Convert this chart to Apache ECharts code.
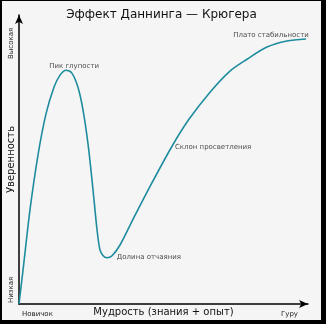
<!DOCTYPE html>
<html><head><meta charset="utf-8">
<script src="https://cdn.jsdelivr.net/npm/echarts@6/dist/echarts.min.js"></script>
<style>
html,body{margin:0;padding:0;background:#000;width:326px;height:324px;overflow:hidden}
#c{position:absolute;left:2px;top:1px;width:319px;height:319px;background:#f5f5f5}
</style></head>
<body><div id="c"></div>
<script>
const titleText = 'Эффект Даннинга — Крюгера';
const xTitle = 'Мудрость (знания + опыт)';
const yTitle = 'Уверенность';
const xEndLabels = ['Новичок', 'Гуру'];
const yEndLabels = ['Низкая', 'Высокая'];
// curve (x: wisdom 0..100, y: confidence 0..100)
const curveX = [0,1.4,3.8,6.6,9.3,12.1,14.2,16.3,18.3,20.4,22.1,23.9,25.6,27.0,28.0,29.1,30.4,32.2,35.0,39.4,45.3,52.9,58.8,66.1,73.0,78.9,85.8,92.7,99.3];
const curveY = [0,11.8,32.6,51.7,65.6,75.0,79.2,80.9,79.9,75.0,67.4,55.2,39.6,25.7,18.8,16.7,16.0,16.7,20.5,29.2,40.6,54.5,63.9,73.3,80.6,84.7,88.9,91.0,91.7];
const annoNames = ['Пик глупости', 'Долина отчаяния', 'Склон просветления', 'Плато стабильности'];
const annoX = [16.3, 30.4, 52.9, 99.3];
const annoY = [80.9, 16.0, 54.5, 91.7];

const chart = echarts.init(document.getElementById('c'));
const font = 'DejaVu Sans';
const annoPos = [
  {position:'top', offset:[8,4]},
  {position:'right', offset:[5,-1]},
  {position:'right', offset:[-2,1]},
  {position:'top', offset:[-35,5]}
];
chart.setOption({
  backgroundColor:'#f5f5f5',
  animation:false,
  textStyle:{fontFamily:font},
  title:{text:titleText,left:'center',top:3,textStyle:{fontFamily:font,fontSize:12,fontWeight:'normal',color:'#111'}},
  grid:{left:17,right:13,top:14,bottom:16,containLabel:false,outerBoundsMode:'none'},
  xAxis:{type:'value',min:0,max:100,name:xTitle,nameLocation:'middle',nameGap:3,
    nameTextStyle:{fontFamily:font,fontSize:10,color:'#111',verticalAlign:'top'},
    axisLine:{lineStyle:{color:'#000',width:1.5},symbol:['none','arrow'],symbolSize:[6,9]},
    axisTick:{show:false},axisLabel:{show:false},splitLine:{show:false}},
  yAxis:{type:'value',min:0,max:100,name:yTitle,nameLocation:'middle',nameGap:3,
    nameTextStyle:{fontFamily:font,fontSize:10,color:'#111',verticalAlign:'bottom'},
    axisLine:{show:true,lineStyle:{color:'#000',width:1.5},symbol:['none','arrow'],symbolSize:[6,9]},
    axisTick:{show:false},axisLabel:{show:false},splitLine:{show:false}},
  graphic:[
    {type:'text',left:20,top:310,style:{text:xEndLabels[0],fontFamily:font,fontSize:7,fill:'#222'}},
    {type:'text',left:279,top:310,style:{text:xEndLabels[1],fontFamily:font,fontSize:7,fill:'#222'}},
    {type:'text',x:6,y:302,rotation:Math.PI/2,style:{text:yEndLabels[0],fontFamily:font,fontSize:7,fill:'#222'}},
    {type:'text',x:6,y:58,rotation:Math.PI/2,style:{text:yEndLabels[1],fontFamily:font,fontSize:7,fill:'#222'}}
  ],
  series:[
    {type:'line',data:curveX.map((x,i)=>[x,curveY[i]]),smooth:0.3,showSymbol:false,
      lineStyle:{color:'#1e8c9e',width:1.6},z:3},
    {type:'scatter',symbolSize:0,z:4,
      data:annoNames.map((n,i)=>({name:n,value:[annoX[i],annoY[i]],
        label:{show:true,formatter:n,position:annoPos[i].position,offset:annoPos[i].offset,
          fontFamily:font,fontSize:7,color:'#222'}}))}
  ]
});
</script></body></html>
